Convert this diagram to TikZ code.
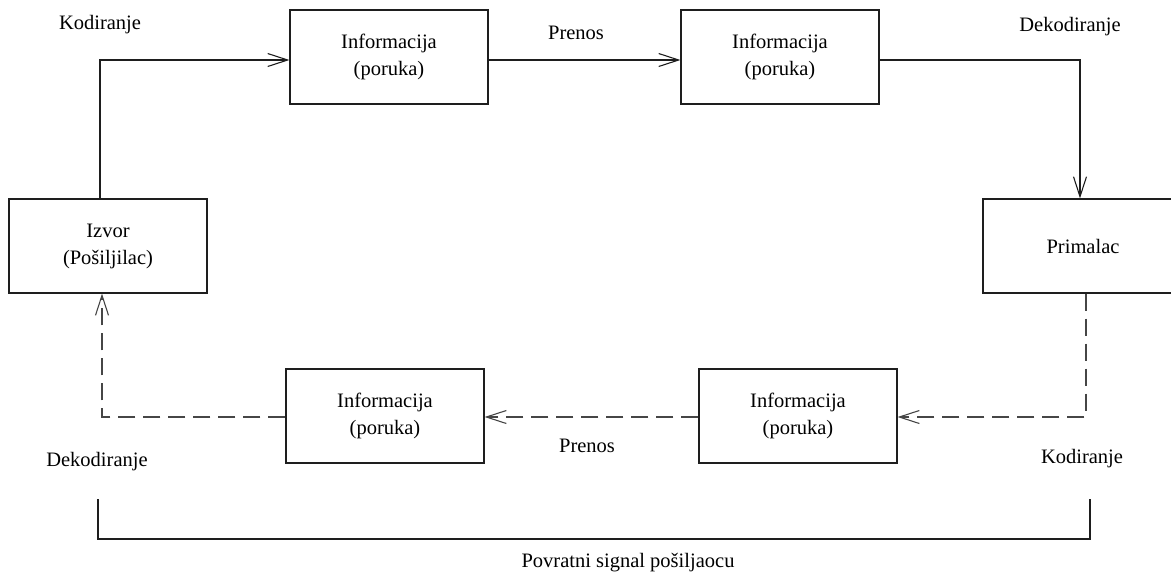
\documentclass[tikz,border=0pt]{standalone}
\usepackage{fontspec}
\setmainfont{Liberation Serif}
\usetikzlibrary{arrows.meta}
\definecolor{lineblack}{RGB}{30,30,30}
\definecolor{dashgray}{RGB}{70,70,70}
\tikzset{
  box/.style={draw=lineblack, line width=1.1pt, minimum width=198pt, minimum height=94pt, inner sep=0pt, align=center, font=\fontsize{20.5}{27}\selectfont},
  lbl/.style={inner sep=0pt, font=\fontsize{20.5}{27}\selectfont},
  arr/.style={-{Straight Barb[length=20pt,width=13pt]}},
  flow/.style={draw=lineblack, line width=1.1pt, arr},
  back/.style={draw=dashgray, line width=1.1pt, dash pattern=on 17pt off 8pt, arr},
}
\begin{document}
\begin{tikzpicture}[x=1pt,y=-1pt]
\useasboundingbox[fill=white] (0,0) rectangle (1171,574);
% boxes
\node[box] (izvor) at (108,246) {Izvor\\(Pošiljilac)};
\node[box] (infoTL) at (389,57) {Informacija\\(poruka)};
\node[box] (infoTR) at (780,57) {Informacija\\(poruka)};
\node[box, minimum width=200pt] (primalac) at (1083,246) {Primalac};
\node[box] (infoBR) at (798,416) {Informacija\\(poruka)};
\node[box] (infoBL) at (385,416) {Informacija\\(poruka)};
% labels
\node[lbl] (kod1) at (100,25) {Kodiranje};
\node[lbl] (pren1) at (576,33) {Prenos};
\node[lbl] (dek1) at (1070,27) {Dekodiranje};
\node[lbl] (dek2) at (97,462) {Dekodiranje};
\node[lbl] (pren2) at (587,446) {Prenos};
\node[lbl] (kod2) at (1082,459) {Kodiranje};
\node[lbl] (povr) at (628,563) {Povratni signal pošiljaocu};
% corner coordinates
\coordinate (c1) at (100,60);
\coordinate (c2) at (1080,60);
\coordinate (c3) at (1086,417);
\coordinate (c4) at (102,417);
\coordinate (b1) at (98,499);
\coordinate (b2) at (98,539);
\coordinate (b3) at (1090,539);
\coordinate (b4) at (1090,499);
% forward path
\draw[flow] (izvor.north -| c1) -- (c1) -- (c1 -| infoTL.west);
\draw[flow] (c1 -| infoTL.east) -- (c1 -| infoTR.west);
\draw[flow] (c1 -| infoTR.east) -- (c2) -- (c2 |- primalac.north);
% feedback path
\draw[back] (c3 |- primalac.south) -- (c3) -- (c3 -| infoBR.east);
\draw[back] (c3 -| infoBR.west) -- (c3 -| infoBL.east);
\draw[back] (c3 -| infoBL.west) -- (c4) -- (c4 |- izvor.south);
% bracket
\draw[draw=lineblack, line width=1.5pt] (b1) -- (b2) -- (b3) -- (b4);
\end{tikzpicture}
\end{document}
